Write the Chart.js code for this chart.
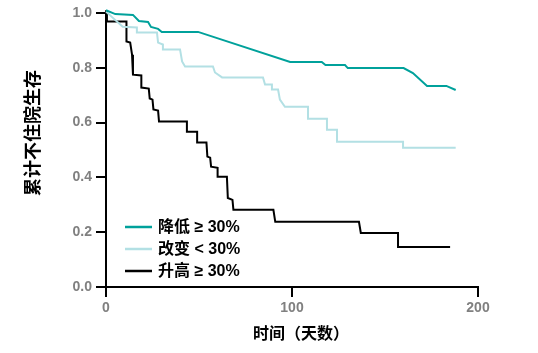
<!DOCTYPE html>
<html lang="zh">
<head>
    <meta charset="UTF-8">
    <title>累计不住院生存</title>
    <script src="https://cdn.jsdelivr.net/npm/chart.js"></script>
    <style>
        html, body { margin: 0; padding: 0; background: #fff; }
        #wrap { width: 538px; height: 353px; }
    </style>
</head>
<body>
    <div id="wrap"><canvas id="kmChart" width="538" height="353"></canvas></div>

    <script>
        // Kaplan-Meier curves (days, cumulative probability)
        const seriesLabels = ['降低 ≥ 30%', '改变 < 30%', '升高 ≥ 30%'];
        const seriesColors = ['#00a19b', '#b3e0e4', '#000000'];

        const decreaseDays = [0, 5, 14.5, 17.7, 22.6, 24.2, 28, 30, 49.5, 99, 116, 118, 128.5, 130, 160, 165, 172.6, 183, 188];
        const decreaseSurv = [1.01, 0.996, 0.993, 0.971, 0.967, 0.949, 0.942, 0.931, 0.931, 0.821, 0.821, 0.810, 0.810, 0.799, 0.799, 0.781, 0.734, 0.734, 0.719];

        const changeDays = [0, 9, 16.6, 16.6, 27.4, 28, 30.6, 30.6, 39.8, 40.9, 42.5, 57.5, 58.6, 62.4, 84.4, 85.5, 89.2, 89.2, 92.5, 93.5, 96.2, 108.6, 108.6, 118.8, 118.8, 124.2, 124.2, 159.7, 159.7, 188];
        const changeSurv = [1.005, 0.95, 0.947, 0.929, 0.929, 0.892, 0.885, 0.867, 0.867, 0.823, 0.805, 0.805, 0.783, 0.765, 0.765, 0.739, 0.739, 0.721, 0.721, 0.684, 0.658, 0.658, 0.614, 0.614, 0.574, 0.574, 0.530, 0.530, 0.508, 0.508];

        const increaseDays = [0, 0.5, 11, 11, 13, 14, 14.5, 14.5, 19, 19, 23, 23.5, 25, 25.5, 28, 28.5, 43.5, 43.5, 49, 49, 54, 54.5, 56, 56.5, 60, 60, 65, 65.5, 68, 68.5, 90, 91, 136, 137, 157, 157, 185];
        const increaseSurv = [1.01, 0.969, 0.969, 0.896, 0.892, 0.848, 0.812, 0.775, 0.772, 0.728, 0.724, 0.688, 0.684, 0.648, 0.644, 0.604, 0.604, 0.567, 0.567, 0.527, 0.527, 0.476, 0.472, 0.439, 0.435, 0.402, 0.402, 0.325, 0.318, 0.282, 0.282, 0.238, 0.238, 0.197, 0.197, 0.146, 0.146];

        const xTicks = [0, 100, 200];
        const yTicks = [0, 0.2, 0.4, 0.6, 0.8, 1.0];

        const xTitle = '时间（天数）';
        const yTitle = '累计不住院生存';

        const FONT = '"Liberation Sans", "Noto Sans CJK SC", sans-serif';

        function toPoints(days, surv) {
            return days.map((d, i) => ({ x: d, y: surv[i] }));
        }

        const allSeries = [
            toPoints(decreaseDays, decreaseSurv),
            toPoints(changeDays, changeSurv),
            toPoints(increaseDays, increaseSurv)
        ];

        const datasets = allSeries.map((pts, i) => ({
            label: seriesLabels[i],
            data: pts,
            borderColor: seriesColors[i],
            borderWidth: 2,
            pointRadius: 0,
            tension: 0,
            fill: false,
            clip: false
        }));

        // legend inside the plot plus the two axis titles
        const kmDecor = {
            id: 'kmDecor',
            afterDraw(chart) {
                const ctx = chart.ctx;
                const area = chart.chartArea;
                ctx.save();

                ctx.font = 'bold 16px ' + FONT;
                ctx.textBaseline = 'middle';
                ctx.textAlign = 'left';
                chart.data.datasets.forEach((ds, i) => {
                    const y = area.top + 214 + i * 22;
                    ctx.strokeStyle = ds.borderColor;
                    ctx.lineWidth = 2.5;
                    ctx.beginPath();
                    ctx.moveTo(area.left + 19, y);
                    ctx.lineTo(area.left + 46, y);
                    ctx.stroke();
                    ctx.fillStyle = '#000';
                    ctx.fillText(ds.label, area.left + 52, y + 1);
                });

                ctx.fillStyle = '#000';
                ctx.textAlign = 'center';
                ctx.font = 'bold 16px ' + FONT;
                ctx.fillText(xTitle, 301, 335);

                ctx.translate(34, 133);
                ctx.rotate(-Math.PI / 2);
                ctx.font = 'bold 18px ' + FONT;
                ctx.fillText(yTitle, 0, 0);

                ctx.restore();
            }
        };

        const ctx = document.getElementById('kmChart').getContext('2d');
        new Chart(ctx, {
            type: 'line',
            data: { datasets },
            options: {
                responsive: false,
                animation: false,
                layout: { padding: { top: 13, right: 60, left: 0, bottom: 0 } },
                plugins: {
                    legend: { display: false },
                    tooltip: { enabled: false }
                },
                scales: {
                    x: {
                        type: 'linear',
                        min: 0,
                        max: 200,
                        afterBuildTicks: s => { s.ticks = xTicks.map(v => ({ value: v })); },
                        afterFit: s => { s.height = 66; },
                        grid: { drawOnChartArea: false, tickLength: 10, color: '#000', lineWidth: 2 },
                        border: { display: true, color: '#000', width: 2 },
                        ticks: {
                            color: '#808080',
                            padding: 3,
                            font: { family: FONT, size: 14, weight: 'bold' }
                        }
                    },
                    y: {
                        min: 0,
                        max: 1,
                        afterBuildTicks: s => { s.ticks = yTicks.map(v => ({ value: v })); },
                        afterFit: s => { s.width = 106; },
                        grid: { drawOnChartArea: false, tickLength: 10, color: '#000', lineWidth: 2 },
                        border: { display: true, color: '#000', width: 2 },
                        ticks: {
                            color: '#808080',
                            padding: 4,
                            callback: v => v.toFixed(1),
                            font: { family: FONT, size: 14, weight: 'bold' }
                        }
                    }
                }
            },
            plugins: [kmDecor]
        });
    </script>
</body>
</html>
